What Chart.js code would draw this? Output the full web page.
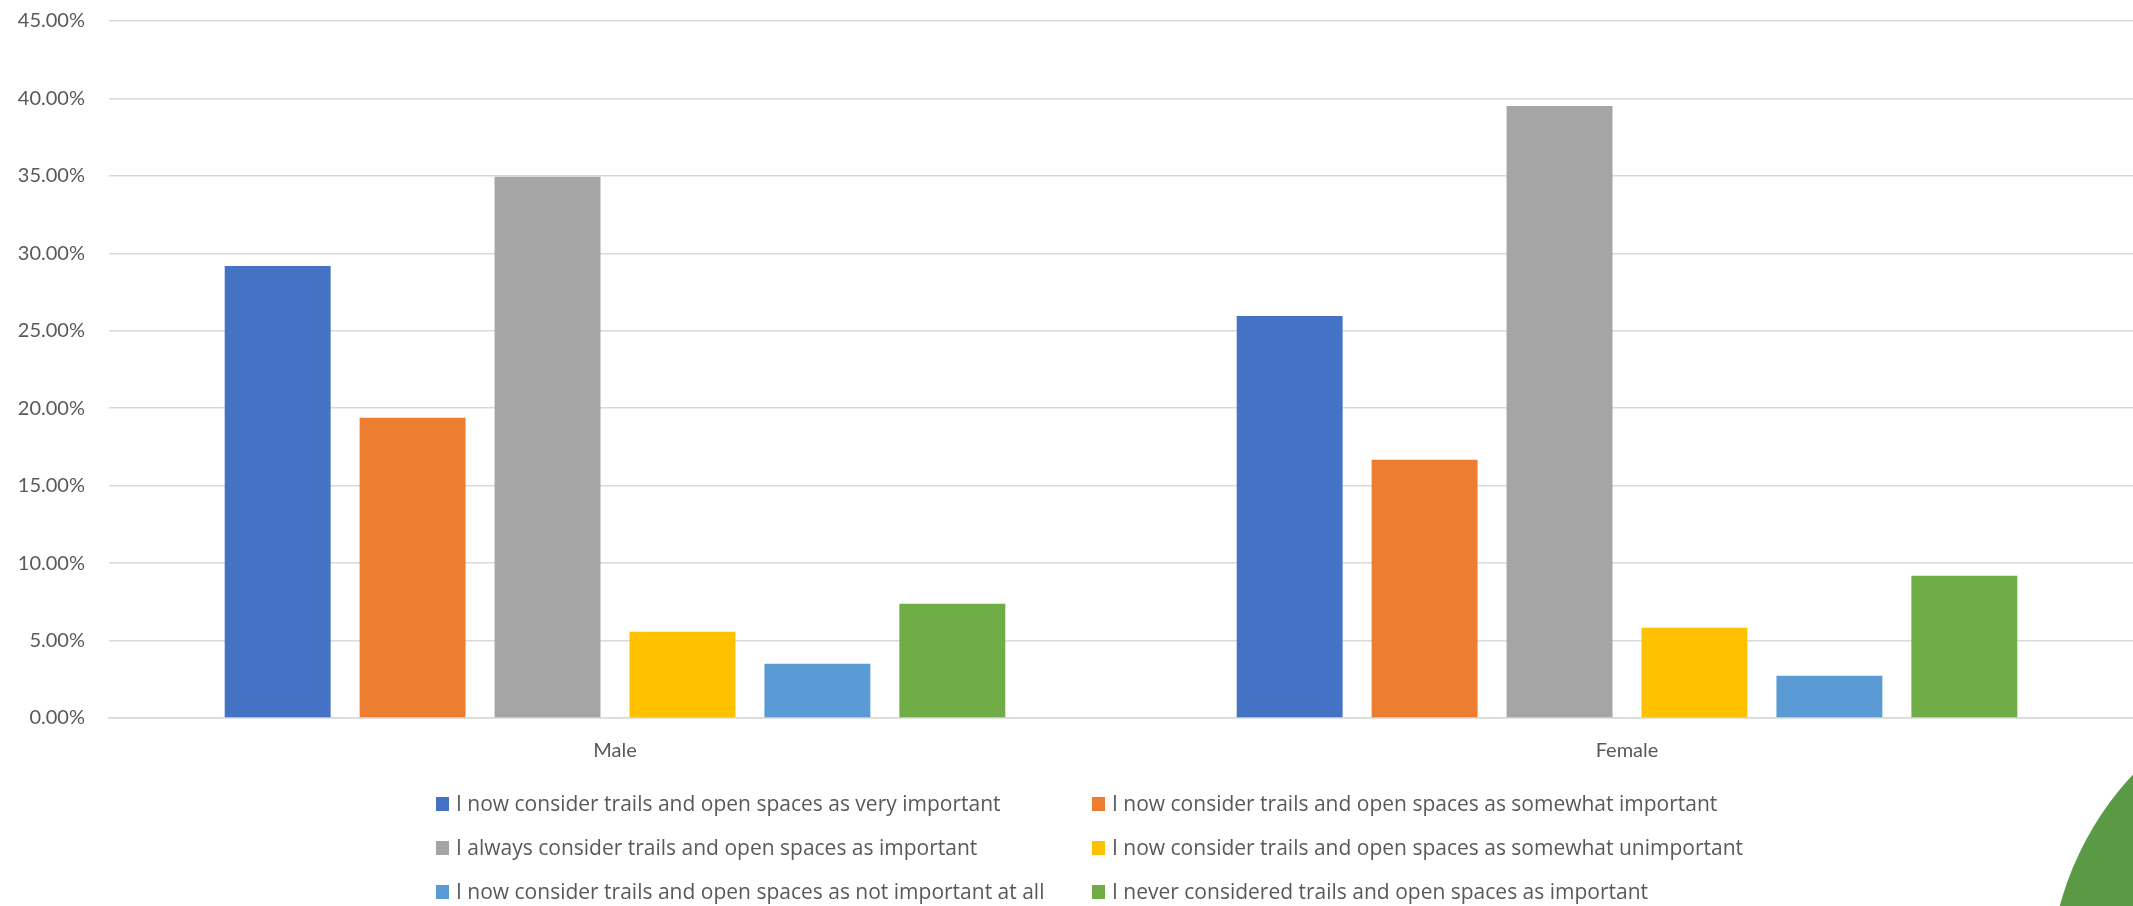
<!DOCTYPE html>
<html>
<head>
<meta charset="utf-8">
<script src="https://cdn.jsdelivr.net/npm/chart.js@4"></script>
<style>
    html, body { margin: 0; padding: 0; background: #ffffff; overflow: hidden; }
    #wrap { position: relative; width: 2133px; height: 906px; }
    #chart { position: absolute; left: 0; top: 0; }
    /* decorative disc in the bottom-right corner of the slide */
    .corner-disc {
        position: absolute;
        left: 2049px; top: 676px;
        width: 622px; height: 622px;
        border-radius: 50%;
        background: #5B9A44;
    }
</style>
</head>
<body>
<div id="wrap">
    <div class="corner-disc"></div>
    <canvas id="chart" width="2133" height="906"></canvas>
</div>
<script>
// Survey answers split by gender (percent of respondents)
const categories = ['Male', 'Female'];

const answerLabels = [
    'I now consider trails and open spaces as very important',
    'I now consider trails and open spaces as somewhat important',
    'I always consider trails and open spaces as important',
    'I now consider trails and open spaces as somewhat unimportant',
    'I now consider trails and open spaces as not important at all',
    'I never considered trails and open spaces as important'
];

const veryImportant = [29.19, 25.96];
const somewhatImportant = [19.38, 16.67];
const alwaysImportant = [34.95, 39.51];
const somewhatUnimportant = [5.57, 5.83];
const notImportantAtAll = [3.50, 2.73];
const neverImportant = [7.38, 9.18];

const yTicks = [0, 5, 10, 15, 20, 25, 30, 35, 40, 45];

const seriesColors = ['#4472C4', '#ED7D31', '#A5A5A5', '#FFC000', '#5B9BD5', '#70AD47'];
const seriesValues = [veryImportant, somewhatImportant, alwaysImportant, somewhatUnimportant, notImportantAtAll, neverImportant];

const TEXT_COLOR = '#595959';
const GRID_COLOR = '#D9D9D9';
const FONT_FAMILY = 'Lato, "Open Sans", sans-serif';
const LEGEND_FONT = '"Open Sans", Lato, sans-serif';

// Two-column legend under the axis, drawn straight onto the canvas
const gridLegend = {
    id: 'gridLegend',
    afterDraw(chart, args, opts) {
        const ctx = chart.ctx;
        ctx.save();
        ctx.font = `${opts.fontSize}px ${LEGEND_FONT}`;
        ctx.textBaseline = 'middle';
        ctx.textAlign = 'left';
        chart.data.datasets.forEach((ds, i) => {
            const col = i % 2;
            const row = Math.floor(i / 2);
            const x = opts.columns[col];
            const y = opts.rows[row];
            ctx.fillStyle = ds.backgroundColor;
            ctx.fillRect(x, y - opts.box / 2, opts.box - 1, opts.box);
            ctx.fillStyle = TEXT_COLOR;
            ctx.fillText(ds.label, x + opts.box + 6, y + 1);
        });
        ctx.restore();
    }
};

const ctx = document.getElementById('chart').getContext('2d');
const chart = new Chart(ctx, {
    type: 'bar',
    data: {
        labels: categories,
        datasets: answerLabels.map((label, i) => ({
            label: label,
            data: seriesValues[i],
            backgroundColor: seriesColors[i],
            borderWidth: 0,
            categoryPercentage: 0.8,
            barPercentage: 0.785
        }))
    },
    options: {
        responsive: false,
        animation: false,
        layout: { padding: { top: 21, left: 0, right: 0, bottom: 0 } },
        plugins: {
            legend: { display: false },
            tooltip: { enabled: false },
            gridLegend: {
                columns: [436, 1092],
                rows: [804, 848, 892],
                box: 14,
                fontSize: 21
            }
        },
        scales: {
            x: {
                grid: { display: false, drawTicks: false },
                border: { display: true, color: GRID_COLOR, width: 1.5 },
                ticks: {
                    color: TEXT_COLOR,
                    font: { family: FONT_FAMILY, size: 20 },
                    padding: 21
                },
                afterFit(scale) { scale.height = 188; }
            },
            y: {
                min: 0,
                max: 45,
                afterBuildTicks(scale) { scale.ticks = yTicks.map(v => ({ value: v })); },
                grid: { color: GRID_COLOR, lineWidth: 1.5, drawTicks: false },
                border: { display: false },
                ticks: {
                    color: TEXT_COLOR,
                    font: { family: FONT_FAMILY, size: 20 },
                    padding: 24,
                    callback: value => `${value.toFixed(2)}%`
                },
                afterFit(scale) {
                    scale.width = 109;
                    scale.paddingTop = 0;
                    scale.paddingBottom = 0;
                }
            }
        }
    },
    plugins: [gridLegend]
});
</script>
</body>
</html>
